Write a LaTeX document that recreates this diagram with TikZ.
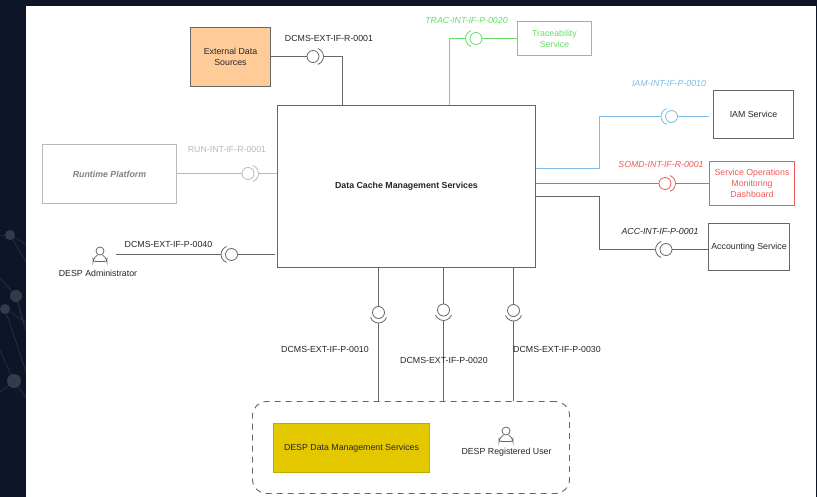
\documentclass[tikz,border=0pt]{standalone}
\usepackage{fontspec}
\setmainfont{Liberation Sans}
\usetikzlibrary{calc,positioning}
\definecolor{pagebg}{HTML}{0D1528}
\definecolor{netgray}{HTML}{363B4B}
\definecolor{netline}{HTML}{2A3040}
\definecolor{compgray}{HTML}{666666}
\definecolor{rungray}{HTML}{B9B9B9}
\definecolor{tracgreen}{HTML}{66DD66}
\definecolor{iamblue}{HTML}{7DBBE8}
\definecolor{somdred}{HTML}{F05A5A}
\definecolor{extorange}{HTML}{FFCC99}
\definecolor{despyellow}{HTML}{E3C800}
\tikzset{
  comp/.style={draw=compgray,line width=1.2pt,shape=rectangle,align=center,font=\fontsize{8.8}{10.8}\selectfont,text=black!85},
  ball/.style={draw,fill=white,circle,inner sep=0pt,minimum size=12pt,line width=0.8pt},
  iflabel/.style={font=\fontsize{8.8}{10.8}\selectfont,text=black!85,inner sep=0pt},
  wire/.style={line width=1.2pt},
  netwire/.style={draw=netline,line width=0.7pt},
}
% socket round a ball: colour, ball name, direction it faces
\newcommand{\ifsocket}[3]{
  \draw[#1,line width=0.8pt] ($(#2)+(#3:2)+(#3-70:8.5)$) arc[start angle=#3-70,delta angle=140,radius=8.5];
  \coordinate (#2s) at ($(#2)+(#3:10.5)$);
}
% user icon
\newcommand{\usericon}[1]{
  \draw[compgray,line width=0.8pt] ($(#1)+(0,-3.5)$) circle[radius=4];
  \draw[compgray,line width=0.8pt,rounded corners=2.5pt] ($(#1)+(-2.5,0.3)$) -- ($(#1)+(-7,5)$) -- ($(#1)+(-7,7)$) -- ($(#1)+(7,7)$) -- ($(#1)+(7,5)$) -- ($(#1)+(2.5,0.3)$);
}
\begin{document}
\begin{tikzpicture}[x=1pt,y=-1pt]
\useasboundingbox (0,0) rectangle (817,497);
\fill[pagebg] (0,0) rectangle (817,497);
% background network
\draw[netwire] (0,236) -- (10,235) -- (26,244);
\draw[netwire] (10,235) -- (26,262);
\draw[netwire] (0,278) -- (16,296) -- (26,330);
\draw[netwire] (16,296) -- (24,325);
\draw[netwire] (5,309) -- (26,322);
\draw[netwire] (5,309) -- (26,372);
\draw[netwire] (0,350) -- (14,381) -- (26,398);
\draw[netwire] (0,392) -- (14,381);
\fill[netgray] (10,235) circle[radius=5] (16,296) circle[radius=6] (5,309) circle[radius=5] (14,381) circle[radius=7];
\fill[white] (26,6) rectangle (816,497);

\node[comp,fill=extorange,minimum width=80pt,minimum height=59pt] (ext) at (230.5,57) {External Data\\Sources};
\node[comp,minimum width=258pt,minimum height=162pt,font=\fontsize{8.8}{10.8}\selectfont\bfseries] (main) at (406.5,186.5) {Data Cache Management Services};
\node[comp,draw=rungray,text=gray,font=\fontsize{8.8}{10.8}\selectfont\itshape\bfseries,minimum width=134pt,minimum height=59pt] (run) at (109.5,174) {Runtime Platform};
\node[comp,draw=tracgreen,text=tracgreen,minimum width=74pt,minimum height=34pt] (trac) at (554.5,38.5) {Traceability\\Service};
\node[comp,minimum width=80pt,minimum height=48pt] (iam) at (753.5,114.5) {IAM Service};
\node[comp,draw=somdred,text=somdred,minimum width=85pt,minimum height=44pt,inner sep=0pt] (somd) at (752,183.5) {Service Operations\\Monitoring\\Dashboard};
\node[comp,minimum width=81pt,minimum height=47pt,inner sep=0pt] (acc) at (749,247) {Accounting Service};
\node[comp,draw=despyellow!85!black,fill=despyellow,line width=0.6pt,minimum width=156pt,minimum height=49pt] (dms) at (351.5,448) {DESP Data Management Services};
\node[draw=compgray,dash pattern=on 6pt off 5pt,line width=0.9pt,rounded corners=14pt,minimum width=317pt,minimum height=92pt] (group) at (411,447.5) {};

\coordinate (admin) at (100,254.5);
\coordinate (reguser) at (506,434.5);
\usericon{admin}
\usericon{reguser}
\node[iflabel] (adminlab) at (98,273) {DESP Administrator};
\node[iflabel] (reglab) at (506.5,452.5) {DESP Registered User};

\node[ball,draw=compgray] (bext) at (313,56.5) {};
\node[ball,draw=rungray] (brun) at (248,173.5) {};
\node[ball,draw=compgray] (badm) at (231.5,254.5) {};
\node[ball,draw=tracgreen] (btrac) at (476,38.5) {};
\node[ball,draw=iamblue] (biam) at (671.5,116.5) {};
\node[ball,draw=somdred] (bsomd) at (665,183.5) {};
\node[ball,draw=compgray] (bacc) at (666,249.5) {};
\node[ball,draw=compgray] (bdb) at (378.5,312.5) {};
\node[ball,draw=compgray] (bdc) at (443.5,310) {};
\node[ball,draw=compgray] (bdd) at (513.5,310.5) {};

\ifsocket{compgray}{bext}{0}
\ifsocket{rungray}{brun}{0}
\ifsocket{compgray}{badm}{180}
\ifsocket{tracgreen}{btrac}{180}
\ifsocket{iamblue}{biam}{180}
\ifsocket{somdred}{bsomd}{0}
\ifsocket{compgray}{bacc}{180}
\ifsocket{compgray}{bdb}{90}
\ifsocket{compgray}{bdc}{90}
\ifsocket{compgray}{bdd}{90}

\coordinate (adminend) at (116,254.5);
\coordinate (iamend) at (709,116.5);
\coordinate (mainw) at (275,254.5);

\draw[wire,compgray] (ext.east |- bext) -- (bext);
\draw[wire,compgray] (bexts) -- (342.5,56.5) -- (342.5,0 |- main.north);
\draw[wire,rungray] (run.east |- brun) -- (brun);
\draw[wire,rungray] (bruns) -- (main.west |- brun);
\draw[wire,compgray] (adminend) -- (badms);
\draw[wire,compgray] (badm) -- (mainw);
\draw[wire,tracgreen] (449.5,0 |- main.north) -- (449.5,38.5) -- (btracs);
\draw[wire,tracgreen] (btrac) -- (trac.west |- btrac);
\draw[wire,iamblue] (main.east |- 0,168.5) -- (599.5,168.5) -- (599.5,116.5) -- (biams);
\draw[wire,iamblue] (biam) -- (iamend);
\draw[wire,somdred] (main.east |- bsomd) -- (bsomd);
\draw[wire,somdred] (bsomds) -- (somd.west |- bsomds);
\draw[wire,compgray] (main.east |- 0,196.5) -- (599.5,196.5) -- (599.5,249.5) -- (baccs);
\draw[wire,compgray] (bacc) -- (acc.west |- bacc);
\foreach \b in {bdb,bdc,bdd}{
  \draw[wire,compgray] (\b |- main.south) -- (\b);
  \draw[wire,compgray] (\b s) -- (\b s |- group.north);
}

\node[iflabel] (lext) at (329,38) {DCMS-EXT-IF-R-0001};
\node[iflabel,text=rungray] (lrun) at (227,149.5) {RUN-INT-IF-R-0001};
\node[iflabel] (ladm) at (168.5,244) {DCMS-EXT-IF-P-0040};
\node[iflabel,text=tracgreen,font=\fontsize{8.8}{10.8}\selectfont\itshape] (ltrac) at (466.5,20) {TRAC-INT-IF-P-0020};
\node[iflabel,text=iamblue,font=\fontsize{8.8}{10.8}\selectfont\itshape] (liam) at (669,83.5) {IAM-INT-IF-P-0010};
\node[iflabel,text=somdred,font=\fontsize{8.8}{10.8}\selectfont\itshape] (lsomd) at (661,164) {SOMD-INT-IF-R-0001};
\node[iflabel,font=\fontsize{8.8}{10.8}\selectfont\itshape] (lacc) at (660,231) {ACC-INT-IF-P-0001};
\node[iflabel] (ldb) at (325,349) {DCMS-EXT-IF-P-0010};
\node[iflabel] (ldc) at (444,360) {DCMS-EXT-IF-P-0020};
\node[iflabel] (ldd) at (557,349) {DCMS-EXT-IF-P-0030};
\end{tikzpicture}
\end{document}
